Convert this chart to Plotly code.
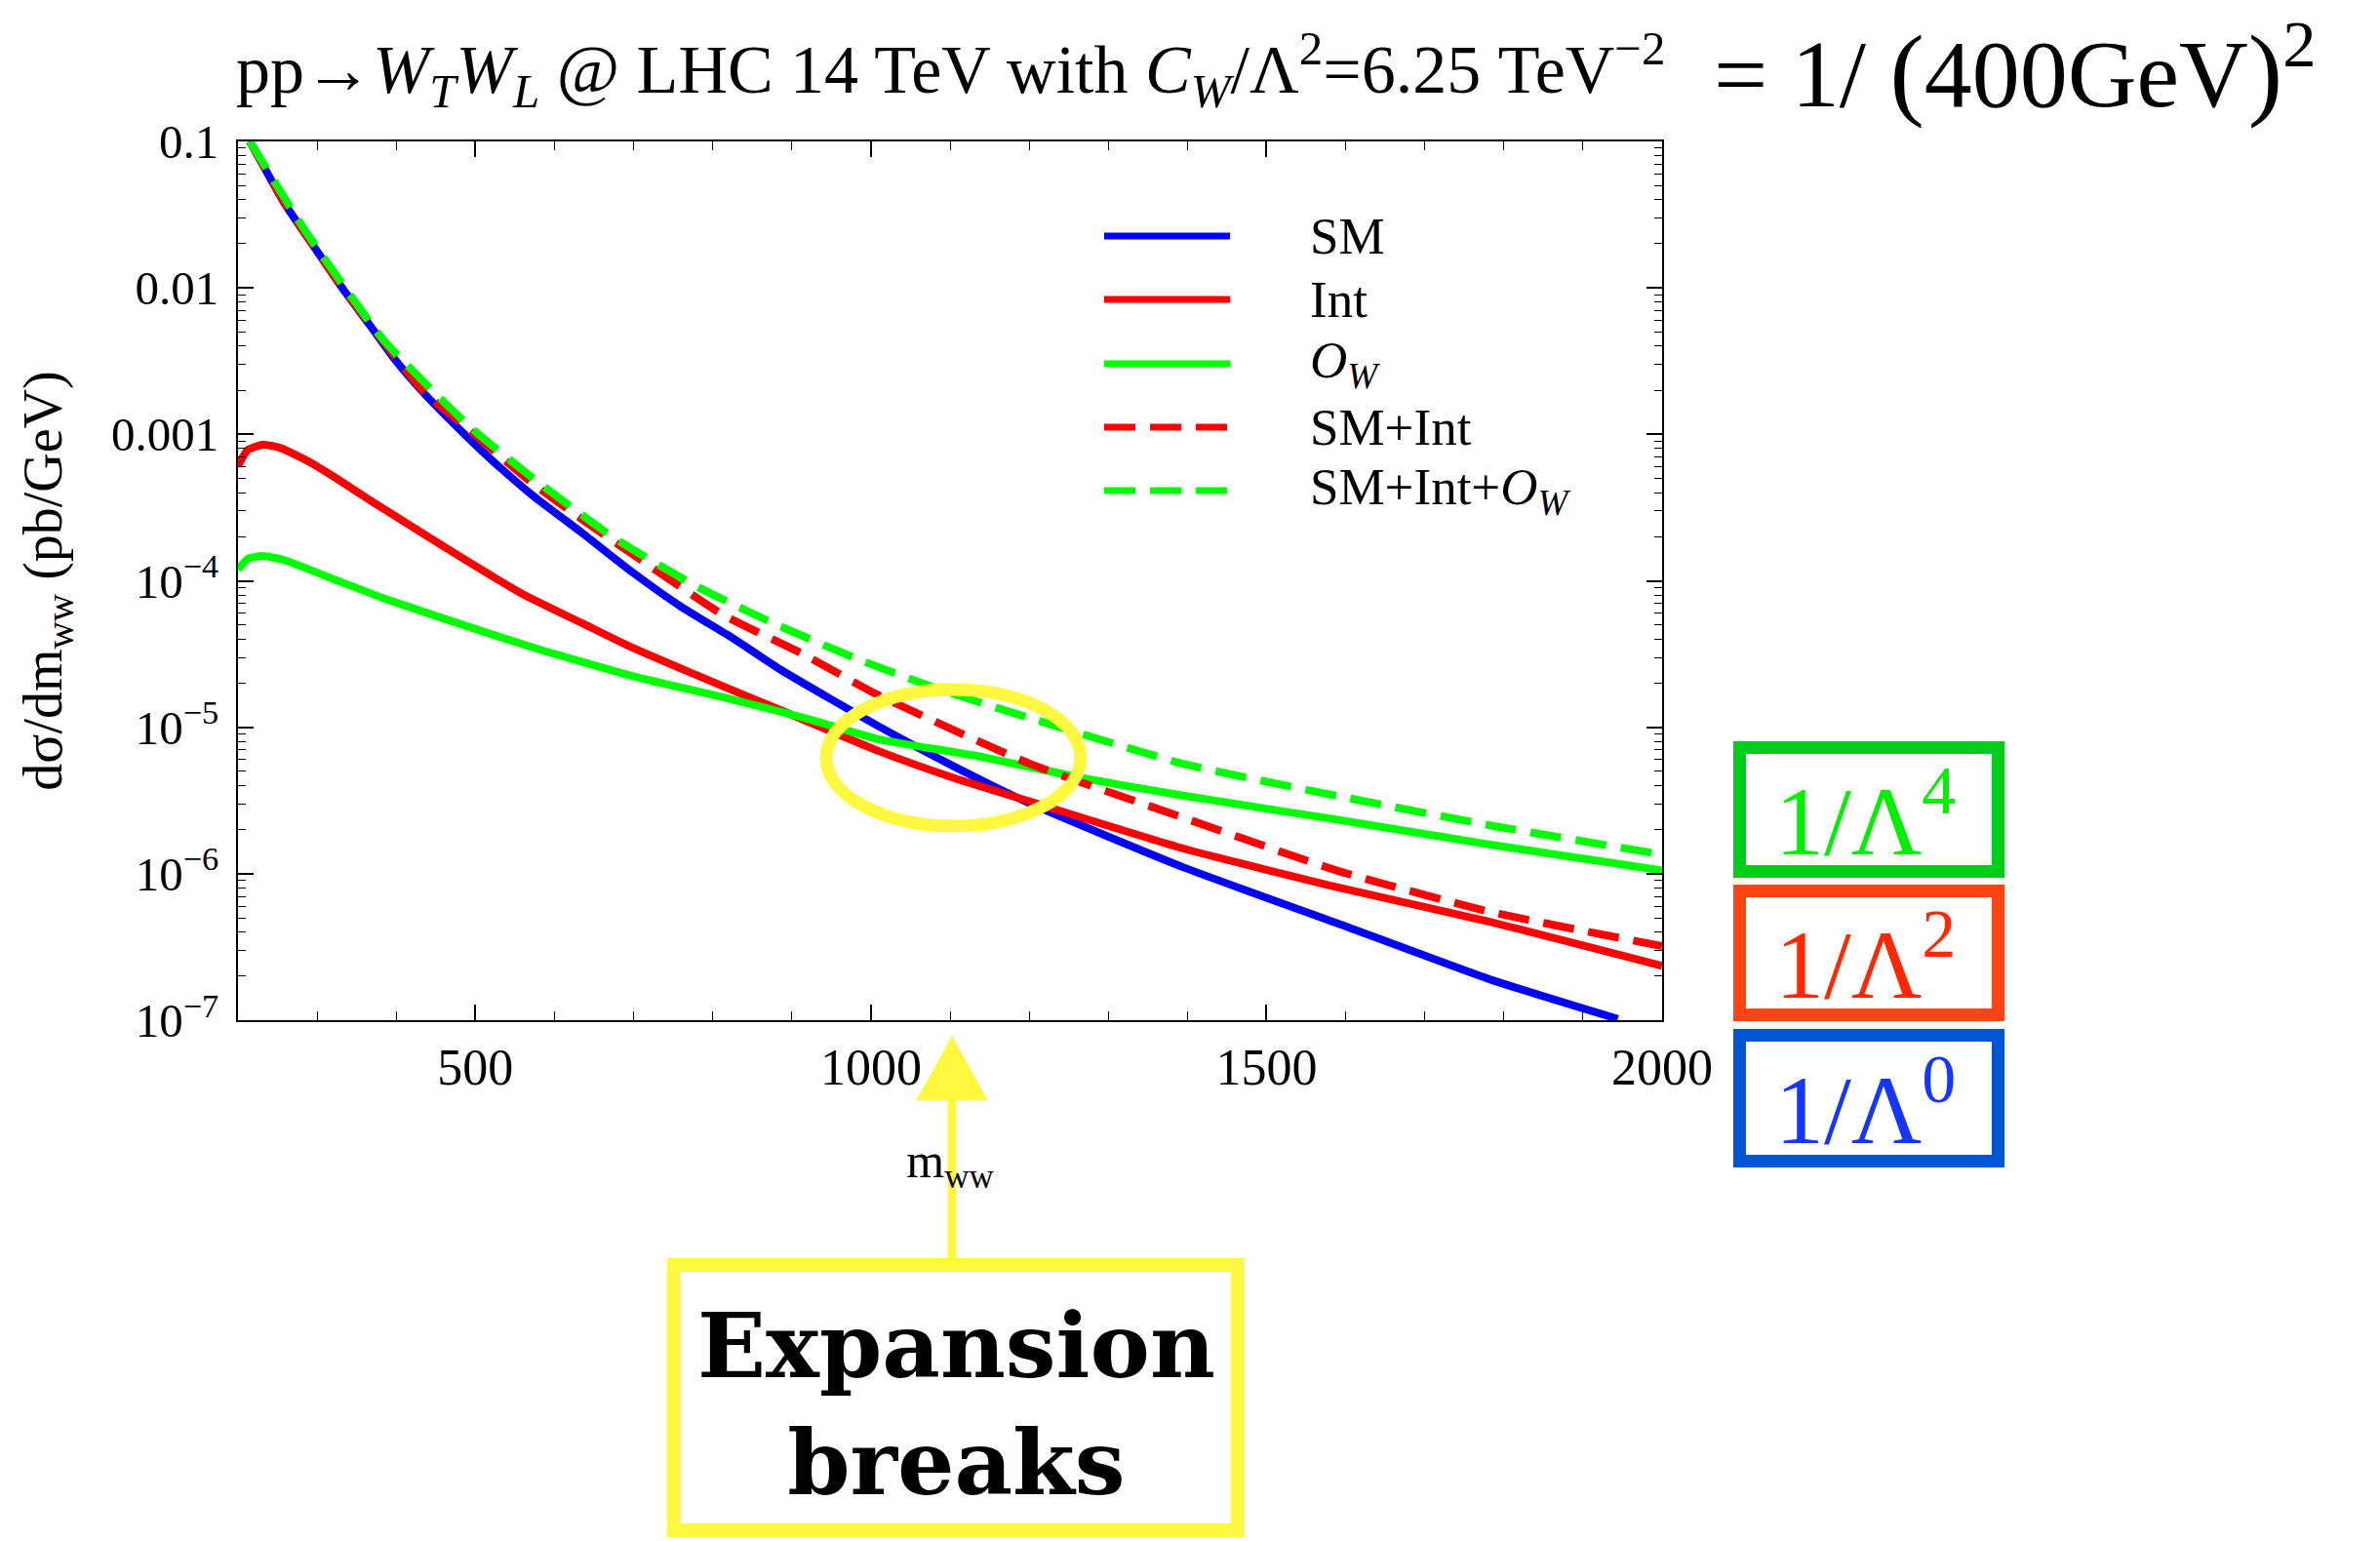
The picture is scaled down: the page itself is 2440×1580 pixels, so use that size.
import plotly.graph_objects as go

W, H = 2440, 1580
OFF = 8  # page body margin of the rendered html
PL, PR, PT, PB = 244, 1704, 145, 1046  # plot-area box in screen pixels


def px(x):
    return (x - PL) / (PR - PL)


def py(y):
    return (PB - y) / (PB - PT)


# ---------------- data ----------------
sm_x = [215, 259, 296, 331, 366, 397, 435, 488, 523, 573, 636, 698, 761, 824, 887, 950,
        1009, 1105, 1202, 1396, 1589, 1782, 1944]
sm_y = [0.1, 0.0375, 0.0191, 0.0101, 0.00562, 0.00331, 0.00191, 9.8e-4, 6.5e-4, 3.8e-4,
        2.1e-4, 1.15e-4, 6.6e-5, 4.1e-5, 2.45e-5, 1.55e-5, 1.02e-5, 5.4e-6, 3.0e-6,
        1.1e-6, 4.6e-7, 1.9e-7, 1.02e-7]

int_x = [200, 212, 231, 253, 290, 322, 372, 428, 491, 560, 636, 698, 761, 824, 887,
         1009, 1105, 1202, 1396, 1589, 1782, 2000]
int_y = [6.1e-4, 7.8e-4, 8.5e-4, 8.1e-4, 6.5e-4, 5.1e-4, 3.4e-4, 2.2e-4, 1.35e-4, 8.1e-5,
         5.1e-5, 3.5e-5, 2.5e-5, 1.8e-5, 1.3e-5, 6.9e-6, 4.5e-6, 3.1e-6, 1.48e-6, 8.1e-7,
         4.7e-7, 2.35e-7]

ow_x = [200, 212, 231, 259, 322, 384, 479, 573, 698, 824, 918, 1009, 1138, 1267, 1396,
        1589, 1782, 2000]
ow_y = [1.19e-4, 1.41e-4, 1.48e-4, 1.38e-4, 1.02e-4, 7.6e-5, 5.1e-5, 3.5e-5, 2.24e-5,
        1.55e-5, 1.15e-5, 8.3e-6, 6.3e-6, 4.5e-6, 3.4e-6, 2.34e-6, 1.58e-6, 1.05e-6]

smint_x = [215, 259, 331, 435, 488, 573, 636, 717, 812, 912, 1009, 1202, 1396, 1589,
           1782, 2000]
smint_y = [0.1, 0.038, 0.0102, 1.95e-3, 1.12e-3, 4.6e-4, 2.6e-4, 1.3e-4, 5.9e-5, 3.2e-5,
           1.66e-5, 5.6e-6, 2.4e-6, 1.05e-6, 5.5e-7, 3.2e-7]

smintow_x = [215, 284, 384, 491, 573, 673, 774, 874, 981, 1088, 1202, 1396, 1589, 1782,
             2000]
smintow_y = [0.1, 0.025, 4.4e-3, 1.15e-3, 5.0e-4, 2.0e-4, 9.5e-5, 5.2e-5, 2.95e-5,
             1.8e-5, 1.15e-5, 5.6e-6, 3.4e-6, 2.14e-6, 1.35e-6]

series_names = ["SM", "Int", "<i>O</i><sub><i>W</i></sub>", "SM+Int",
                "SM+Int+<i>O</i><sub><i>W</i></sub>"]
series_colors = ["rgb(0,0,255)", "rgb(255,0,0)", "rgb(0,255,0)", "rgb(255,0,0)",
                 "rgb(0,255,0)"]
series_dash = ["solid", "solid", "solid", "32px,15px", "32px,15px"]

x_ticks = [500, 1000, 1500, 2000]
y_ticks = [0.1, 0.01, 0.001, 1e-4, 1e-5, 1e-6, 1e-7]
y_ticktext = ["0.1", "0.01", "0.001", "10<sup>−4</sup>", "10<sup>−5</sup>",
              "10<sup>−6</sup>", "10<sup>−7</sup>"]

FONT = "Liberation Serif"

fig = go.Figure()
data = [(sm_x, sm_y), (int_x, int_y), (ow_x, ow_y), (smint_x, smint_y),
        (smintow_x, smintow_y)]
for (xs, ys), name, col, dash in zip(data, series_names, series_colors, series_dash):
    fig.add_trace(go.Scatter(
        x=xs, y=ys, mode="lines", name=name, showlegend=False,
        line=dict(color=col, width=8, dash=dash, shape="spline", smoothing=0.5),
    ))

axis_common = dict(
    showline=True, linecolor="black", linewidth=2, mirror="allticks",
    ticks="inside", tickcolor="black", tickwidth=1.5, ticklen=16,
    showgrid=False, zeroline=False, automargin=False,
)

fig.update_xaxes(
    **axis_common, range=[200, 2000], tickvals=x_ticks,
    tickfont=dict(family=FONT, size=52, color="black"),
    ticklabelstandoff=2,
    minor=dict(ticks="inside", ticklen=9, tickwidth=1.2, tickcolor="black", dtick=100,
               showgrid=False),
    title=dict(text="m<sub>ww</sub>", font=dict(family=FONT, size=50, color="black"),
               standoff=50),
)
fig.update_yaxes(
    **axis_common, type="log", range=[-7, -1], tickvals=y_ticks, ticktext=y_ticktext,
    tickfont=dict(family=FONT, size=49, color="black"),
    ticklabelstandoff=8,
    minor=dict(ticks="inside", ticklen=8, tickwidth=1.2, tickcolor="black", dtick="D1",
               showgrid=False),
    title=dict(text="dσ/dm<sub>ww</sub> (pb/GeV)",
               font=dict(family=FONT, size=56, color="black"), standoff=32),
)

shapes = []
annotations = []

# ---- legend drawn in the plot ----
leg_ys = [242, 307, 373, 438, 503]
for yy, name, col, dash in zip(leg_ys, series_names, series_colors, series_dash):
    shapes.append(dict(type="line", xref="paper", yref="paper", x0=px(1132), x1=px(1261),
                       y0=py(yy), y1=py(yy), line=dict(color=col, width=7, dash=dash)))
    annotations.append(dict(text=name, xref="paper", yref="paper", x=px(1341), y=py(yy),
                            xanchor="left", yanchor="middle", showarrow=False,
                            font=dict(family=FONT, size=53, color="black")))

# ---- title ----
annotations.append(dict(
    text="pp→<i>W</i><sub><i>T</i></sub><i>W</i><sub><i>L</i></sub> @ LHC 14 TeV with "
         "<i>C</i><sub><i>W</i></sub>/Λ<sup>2</sup>=6.25 TeV<sup>−2</sup>",
    xref="paper", yref="paper", x=px(240), y=py(72), xanchor="left", yanchor="middle",
    showarrow=False, font=dict(family=FONT, size=70, color="black")))
annotations.append(dict(
    text="= 1/ <span style='font-size:106px'>(</span>400GeV"
         "<span style='font-size:106px'>)</span><sup>2</sup>",
    xref="paper", yref="paper", x=px(1755), y=py(70), xanchor="left", yanchor="middle",
    showarrow=False, font=dict(family=FONT, size=98, color="black")))

YEL = "rgb(255,248,64)"
# ---- yellow ellipse ----
shapes.append(dict(type="circle", xref="paper", yref="paper", x0=px(847), x1=px(1108),
                   y0=py(707), y1=py(847), line=dict(color=YEL, width=13), layer="above"))
# ---- yellow arrow ----
shapes.append(dict(type="line", xref="paper", yref="paper", x0=px(976), x1=px(976),
                   y0=py(1292), y1=py(1120), line=dict(color=YEL, width=9)))
tri = "M {},{} L {},{} L {},{} Z".format(px(940), py(1128), px(976), py(1063),
                                         px(1012), py(1128))
shapes.append(dict(type="path", xref="paper", yref="paper", path=tri, fillcolor=YEL,
                   line=dict(color=YEL, width=1)))
# ---- yellow box ----
shapes.append(dict(type="rect", xref="paper", yref="paper", x0=px(691), x1=px(1269),
                   y0=py(1297), y1=py(1569), fillcolor="white",
                   line=dict(color=YEL, width=14)))
annotations.append(dict(text="Expansion<br>breaks", xref="paper", yref="paper",
                        x=px(980), y=py(1440), xanchor="center", yanchor="middle",
                        showarrow=False,
                        font=dict(family="DejaVu Serif", size=92, color="black",
                                  weight="bold")))

# ---- order boxes on the right ----
boxes = [
    (760, 900, "rgb(0,204,26)", "rgb(0,240,0)", "1/Λ<sup>4</sup>"),
    (907, 1047, "rgb(255,68,20)", "rgb(255,40,0)", "1/Λ<sup>2</sup>"),
    (1055, 1197, "rgb(0,85,212)", "rgb(20,55,255)", "1/Λ<sup>0</sup>"),
]
for y0, y1, bcol, tcol, txt in boxes:
    shapes.append(dict(type="rect", xref="paper", yref="paper", x0=px(1777 + 6.5),
                       x1=px(2055 - 6.5), y0=py(y0 + 6.5), y1=py(y1 - 6.5),
                       line=dict(color=bcol, width=13)))
    annotations.append(dict(text=txt, xref="paper", yref="paper", x=px(1912),
                            y=py((y0 + y1) / 2 + 5), xanchor="center", yanchor="middle",
                            showarrow=False,
                            font=dict(family=FONT, size=100, color=tcol)))

fig.update_layout(
    width=W, height=H, autosize=False,
    margin=dict(l=PL - OFF, r=W - PR + OFF, t=PT - OFF, b=H - PB + OFF, pad=0),
    paper_bgcolor="white", plot_bgcolor="white",
    showlegend=False, shapes=shapes, annotations=annotations,
    font=dict(family=FONT, color="black"),
)

fig.write_html("out.html")
